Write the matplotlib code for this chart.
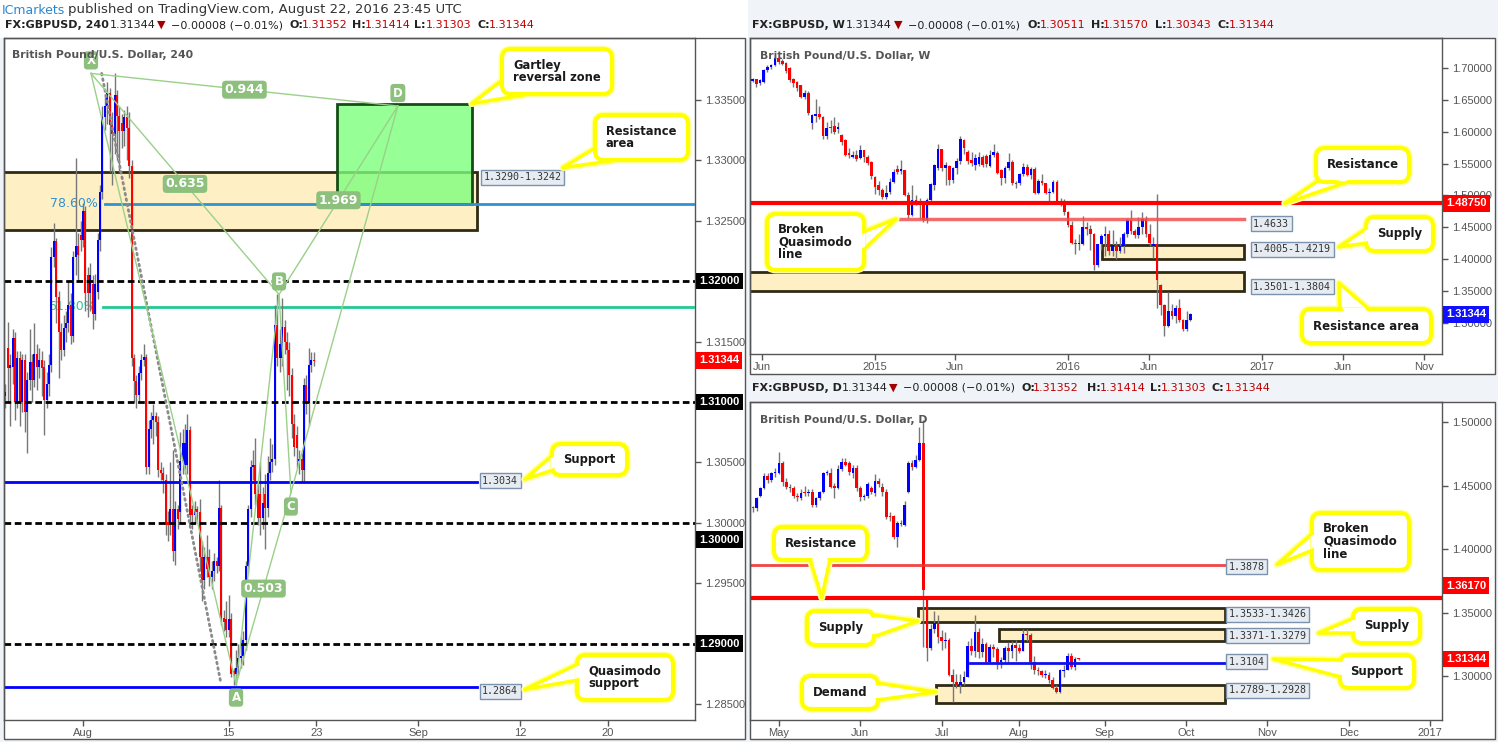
import matplotlib
matplotlib.use('Agg')
import matplotlib.pyplot as plt
import matplotlib.transforms as mtransforms
from matplotlib.patches import Rectangle, FancyBboxPatch, Polygon
import numpy as np

plt.rcParams['font.family'] = ['DejaVu Sans']

# ------------------------------------------------------------------ data: 4H (bar 0 = Aug 1 2016 00:00)
h4_first_bar = -32
h4_open = [
    1.3105, 1.3145, 1.3128, 1.3129, 1.3153, 1.3100, 1.3136, 1.3100, 1.3135, 1.3092,
    1.3118, 1.3133, 1.3118, 1.3140, 1.3129, 1.3135, 1.3129, 1.3102, 1.3115, 1.3131,
    1.3220, 1.3233, 1.3187, 1.3158, 1.3143, 1.3161, 1.3165, 1.3180, 1.3155, 1.3220,
    1.3229, 1.3238, 1.3234, 1.3258, 1.3205, 1.3190, 1.3198, 1.3173, 1.3191, 1.3234,
    1.3274, 1.3336, 1.3345, 1.3356, 1.3329, 1.3322, 1.3354, 1.3337, 1.3331, 1.3324,
    1.3336, 1.3327, 1.3295, 1.3136, 1.3117, 1.3106, 1.3124, 1.3135, 1.3137, 1.3046,
    1.3078, 1.3085, 1.3088, 1.3083, 1.3044, 1.3041, 1.3035, 1.3001, 1.2998, 1.3011,
    1.2977, 1.3011, 1.3009, 1.3051, 1.3048, 1.3048, 1.3077, 1.3011, 1.3006, 1.3011,
    1.3009, 1.2972, 1.2953, 1.2972, 1.2972, 1.2955, 1.2960, 1.2968, 1.2964, 1.3012,
    1.2921, 1.2920, 1.2911, 1.2920, 1.2877, 1.2875, 1.2880, 1.2888, 1.2890, 1.2903,
    1.2964, 1.3011, 1.3046, 1.3048, 1.3024, 1.3024, 1.3004, 1.3024, 1.3012, 1.3041,
    1.3050, 1.3053, 1.3164, 1.3136, 1.3136, 1.3162, 1.3150, 1.3143, 1.3122, 1.3082,
    1.3073, 1.3051, 1.3053, 1.3044, 1.3114, 1.3099, 1.3131, 1.3135]
h4_close = [
    1.3108, 1.3128, 1.3131, 1.3153, 1.3100, 1.3136, 1.3100, 1.3135, 1.3092, 1.3118,
    1.3133, 1.3118, 1.3140, 1.3129, 1.3135, 1.3128, 1.3102, 1.3115, 1.3131, 1.3220,
    1.3233, 1.3187, 1.3158, 1.3143, 1.3161, 1.3165, 1.3180, 1.3155, 1.3220, 1.3229,
    1.3222, 1.3234, 1.3258, 1.3190, 1.3190, 1.3205, 1.3173, 1.3198, 1.3234, 1.3274,
    1.3336, 1.3345, 1.3356, 1.3329, 1.3322, 1.3354, 1.3337, 1.3324, 1.3324, 1.3336,
    1.3327, 1.3295, 1.3136, 1.3117, 1.3106, 1.3124, 1.3135, 1.3137, 1.3046, 1.3078,
    1.3085, 1.3088, 1.3083, 1.3044, 1.3041, 1.3035, 1.2998, 1.2998, 1.3011, 1.2977,
    1.3011, 1.3003, 1.3051, 1.3066, 1.3066, 1.3077, 1.3006, 1.3006, 1.3011, 1.3009,
    1.2972, 1.2953, 1.2972, 1.2962, 1.2955, 1.2960, 1.2968, 1.2964, 1.3012, 1.2921,
    1.2918, 1.2911, 1.2920, 1.2875, 1.2875, 1.2880, 1.2888, 1.2890, 1.2903, 1.2964,
    1.3011, 1.3046, 1.3048, 1.3024, 1.3004, 1.3004, 1.3016, 1.3012, 1.3041, 1.3050,
    1.3053, 1.3164, 1.3136, 1.3148, 1.3162, 1.3150, 1.3143, 1.3122, 1.3082, 1.3063,
    1.3062, 1.3053, 1.3044, 1.3114, 1.3099, 1.3131, 1.3135, 1.3134]
h4_high = [
    1.3115, 1.3166, 1.3140, 1.3160, 1.3158, 1.3142, 1.3142, 1.3140, 1.3140, 1.3125,
    1.3160, 1.3140, 1.3165, 1.3148, 1.3145, 1.3142, 1.3135, 1.3125, 1.3140, 1.3228,
    1.3248, 1.3236, 1.3192, 1.3165, 1.3172, 1.3175, 1.3200, 1.3190, 1.3225, 1.3302,
    1.3240, 1.3250, 1.3265, 1.3262, 1.3212, 1.3215, 1.3205, 1.3206, 1.3240, 1.3280,
    1.3345, 1.3355, 1.3365, 1.3360, 1.3340, 1.3372, 1.3358, 1.3345, 1.3338, 1.3342,
    1.3345, 1.3340, 1.3300, 1.3140, 1.3122, 1.3130, 1.3140, 1.3148, 1.3140, 1.3085,
    1.3092, 1.3098, 1.3092, 1.3088, 1.3050, 1.3046, 1.3040, 1.3010, 1.3050, 1.3060,
    1.3018, 1.3015, 1.3075, 1.3078, 1.3082, 1.3090, 1.3080, 1.3015, 1.3018, 1.3014,
    1.3020, 1.2985, 1.2980, 1.2990, 1.2978, 1.2968, 1.2975, 1.2972, 1.3035, 1.3015,
    1.2928, 1.2935, 1.2940, 1.2925, 1.2880, 1.2895, 1.2900, 1.2905, 1.2910, 1.2968,
    1.3015, 1.3052, 1.3060, 1.3070, 1.3035, 1.3050, 1.3030, 1.3040, 1.3055, 1.3070,
    1.3065, 1.3180, 1.3189, 1.3160, 1.3186, 1.3168, 1.3158, 1.3150, 1.3128, 1.3090,
    1.3080, 1.3060, 1.3058, 1.3120, 1.3122, 1.3145, 1.3141, 1.3141]
h4_low = [
    1.3095, 1.3100, 1.3080, 1.3115, 1.3085, 1.3095, 1.3080, 1.3092, 1.3075, 1.3058,
    1.3110, 1.3100, 1.3112, 1.3110, 1.3120, 1.3105, 1.3073, 1.3095, 1.3105, 1.3125,
    1.3212, 1.3165, 1.3120, 1.3135, 1.3138, 1.3150, 1.3158, 1.3148, 1.3150, 1.3205,
    1.3200, 1.3225, 1.3228, 1.3175, 1.3170, 1.3175, 1.3160, 1.3168, 1.3185, 1.3225,
    1.3268, 1.3325, 1.3330, 1.3290, 1.3280, 1.3305, 1.3300, 1.3290, 1.3310, 1.3312,
    1.3300, 1.3285, 1.3130, 1.3100, 1.3095, 1.3100, 1.3118, 1.3130, 1.3040, 1.3040,
    1.3070, 1.3065, 1.3072, 1.3038, 1.3035, 1.3025, 1.2990, 1.2985, 1.2990, 1.2968,
    1.2965, 1.2995, 1.3000, 1.3040, 1.3040, 1.3040, 1.3000, 1.2995, 1.3000, 1.3000,
    1.2960, 1.2935, 1.2945, 1.2955, 1.2948, 1.2945, 1.2952, 1.2958, 1.2960, 1.2915,
    1.2910, 1.2905, 1.2905, 1.2872, 1.2866, 1.2866, 1.2874, 1.2880, 1.2882, 1.2895,
    1.2958, 1.3005, 1.3035, 1.3015, 1.2998, 1.2990, 1.2995, 1.2978, 1.3005, 1.3035,
    1.3042, 1.3048, 1.3130, 1.3125, 1.3130, 1.3140, 1.3110, 1.3105, 1.3070, 1.3055,
    1.3045, 1.3040, 1.3034, 1.3034, 1.3090, 1.3080, 1.3125, 1.3130]
h4_ticks = [0, 60, 96, 138, 180, 216]
h4_tick_labels = ['Aug', '15', '23', 'Sep', '12', '20']
h4_price_ticks = [1.285, 1.290, 1.295, 1.300, 1.305, 1.310, 1.315, 1.320, 1.325, 1.330, 1.335]
h4_round_levels = [1.3200, 1.3100, 1.3000, 1.2900]
h4_res_area = (1.3242, 1.3290)
h4_gartley = (1.3264, 1.3347)
h4_fib786 = 1.3264
h4_fib618 = 1.3179
h4_support = 1.3034
h4_qm_support = 1.2864
xabcd_names = ['X', 'A', 'B', 'C', 'D']
xabcd_bars = [3.3, 63.0, 80.7, 85.6, 129.6]
xabcd_prices = [1.3372, 1.2866, 1.3189, 1.3025, 1.3345]
ratio_texts = ['0.635', '0.503', '1.969', '0.944']   # XB, AC, BD, XD
dotted_bars = [7.7, 56.7]
dotted_prices = [1.3372, 1.2868]
last_price = 1.31344

# ------------------------------------------------------------------ data: weekly (week 0 = Jan 5 2015)
wk_first = -33
wk_open = [
    1.6801, 1.6822, 1.6759, 1.6785, 1.6969, 1.7021, 1.7047, 1.7152, 1.7116, 1.7084,
    1.6995, 1.6822, 1.6785, 1.6733, 1.6549, 1.6602, 1.6141, 1.6245, 1.6277, 1.6224,
    1.5931, 1.6067, 1.6088, 1.6046, 1.5947, 1.5869, 1.5659, 1.5607, 1.5633, 1.5580,
    1.5711, 1.5607, 1.5528, 1.5292, 1.5161, 1.5093, 1.4977, 1.5056, 1.5213, 1.5407,
    1.5380, 1.5396, 1.5004, 1.4689, 1.4935, 1.4872, 1.4899, 1.4610, 1.4925, 1.5161,
    1.5423, 1.5722, 1.5423, 1.5459, 1.5239, 1.5423, 1.5544, 1.5869, 1.5685, 1.5554,
    1.5475, 1.5486, 1.5607, 1.5617, 1.5459, 1.5633, 1.5659, 1.5400, 1.5270, 1.5430,
    1.5530, 1.5195, 1.5190, 1.5330, 1.5440, 1.5320, 1.5420, 1.5040, 1.5230, 1.5190,
    1.5040, 1.5060, 1.5210, 1.4910, 1.4900, 1.4740, 1.4530, 1.4260, 1.4230, 1.4240,
    1.4500, 1.4480, 1.4400, 1.3915, 1.4230, 1.4370, 1.4400, 1.4120, 1.4220, 1.4120,
    1.4200, 1.4400, 1.4620, 1.4440, 1.4380, 1.4500, 1.4630, 1.4400, 1.4200, 1.4245,
    1.3600, 1.3280, 1.2950, 1.3193, 1.3110, 1.3228, 1.3037, 1.2907, 1.30511]
wk_close = [
    1.6822, 1.6748, 1.6811, 1.6969, 1.7021, 1.7047, 1.7152, 1.7100, 1.7063, 1.6958,
    1.6811, 1.6759, 1.6680, 1.6549, 1.6602, 1.6298, 1.6261, 1.6277, 1.6224, 1.5931,
    1.6052, 1.6052, 1.5999, 1.6067, 1.5842, 1.5633, 1.5633, 1.5633, 1.5564, 1.5711,
    1.5596, 1.5512, 1.5302, 1.5135, 1.5093, 1.4977, 1.5040, 1.5213, 1.5370, 1.5370,
    1.5417, 1.5004, 1.4689, 1.4935, 1.4872, 1.4899, 1.4610, 1.4935, 1.5177, 1.5475,
    1.5722, 1.5423, 1.5480, 1.5239, 1.5423, 1.5544, 1.5879, 1.5738, 1.5544, 1.5502,
    1.5580, 1.5596, 1.5475, 1.5491, 1.5633, 1.5685, 1.5355, 1.5270, 1.5430, 1.5530,
    1.5190, 1.5185, 1.5330, 1.5440, 1.5320, 1.5420, 1.5040, 1.5230, 1.5190, 1.5040,
    1.5060, 1.5210, 1.4910, 1.4900, 1.4740, 1.4530, 1.4260, 1.4230, 1.4240, 1.4500,
    1.4480, 1.4400, 1.3915, 1.4230, 1.4370, 1.4400, 1.4120, 1.4220, 1.4120, 1.4200,
    1.4400, 1.4620, 1.4440, 1.4380, 1.4500, 1.4630, 1.4400, 1.4260, 1.4245, 1.3676,
    1.3280, 1.2950, 1.3193, 1.3110, 1.3228, 1.3037, 1.2907, 1.3050, 1.31344]
wk_high = [
    1.6840, 1.6830, 1.6830, 1.6990, 1.7040, 1.7060, 1.7180, 1.7190, 1.7140, 1.7100,
    1.7010, 1.6840, 1.6800, 1.6740, 1.6650, 1.6640, 1.6280, 1.6520, 1.6400, 1.6240,
    1.6150, 1.6180, 1.6230, 1.6150, 1.5960, 1.5880, 1.5750, 1.5700, 1.5710, 1.5790,
    1.5720, 1.5640, 1.5540, 1.5300, 1.5220, 1.5110, 1.5160, 1.5270, 1.5410, 1.5480,
    1.5550, 1.5400, 1.5060, 1.5170, 1.5000, 1.4960, 1.4920, 1.4960, 1.5190, 1.5500,
    1.5815, 1.5730, 1.5520, 1.5480, 1.5450, 1.5580, 1.5930, 1.5890, 1.5710, 1.5680,
    1.5650, 1.5680, 1.5640, 1.5650, 1.5720, 1.5815, 1.5690, 1.5420, 1.5460, 1.5660,
    1.5560, 1.5230, 1.5350, 1.5510, 1.5500, 1.5450, 1.5450, 1.5260, 1.5330, 1.5200,
    1.5110, 1.5240, 1.5240, 1.4960, 1.4940, 1.4750, 1.4600, 1.4310, 1.4400, 1.4670,
    1.4590, 1.4530, 1.4410, 1.4240, 1.4400, 1.4514, 1.4460, 1.4460, 1.4280, 1.4350,
    1.4420, 1.4640, 1.4770, 1.4480, 1.4660, 1.4740, 1.4680, 1.4550, 1.4350, 1.5018,
    1.3610, 1.3290, 1.3481, 1.3300, 1.3280, 1.3372, 1.3060, 1.3185, 1.31570]
wk_low = [
    1.6780, 1.6700, 1.6730, 1.6760, 1.6930, 1.6990, 1.7030, 1.7070, 1.7040, 1.6920,
    1.6780, 1.6700, 1.6640, 1.6530, 1.6520, 1.6260, 1.6050, 1.6160, 1.6200, 1.5880,
    1.5880, 1.5980, 1.5960, 1.5980, 1.5790, 1.5620, 1.5590, 1.5590, 1.5540, 1.5570,
    1.5530, 1.5470, 1.5250, 1.5030, 1.5000, 1.4950, 1.4950, 1.5020, 1.5190, 1.5330,
    1.5340, 1.4990, 1.4640, 1.4670, 1.4850, 1.4630, 1.4580, 1.4570, 1.4890, 1.5080,
    1.5400, 1.5380, 1.5170, 1.5170, 1.5200, 1.5330, 1.5500, 1.5650, 1.5500, 1.5460,
    1.5400, 1.5460, 1.5440, 1.5450, 1.5440, 1.5600, 1.5330, 1.5160, 1.5200, 1.5400,
    1.5170, 1.5110, 1.5160, 1.5300, 1.5300, 1.5250, 1.5030, 1.5020, 1.5170, 1.5020,
    1.4895, 1.5040, 1.4890, 1.4830, 1.4700, 1.4500, 1.4240, 1.4080, 1.4150, 1.4220,
    1.4380, 1.4150, 1.3836, 1.3880, 1.4150, 1.4052, 1.4060, 1.4050, 1.4005, 1.4090,
    1.4100, 1.4350, 1.4400, 1.4330, 1.4330, 1.4400, 1.4350, 1.4200, 1.4010, 1.3229,
    1.3120, 1.2796, 1.2932, 1.3060, 1.3000, 1.3010, 1.2865, 1.2865, 1.30343]
wk_ticks = [-30.5, 0, 21.6, 52, 73.7, 104.3, 126, 148]
wk_tick_labels = ['Jun', '2015', 'Jun', '2016', 'Jun', '2017', 'Jun', 'Nov']
wk_price_ticks = [1.30, 1.35, 1.40, 1.45, 1.50, 1.55, 1.60, 1.65, 1.70]
wk_resistance = 1.4875
wk_bqm = 1.4633
wk_supply = (1.4005, 1.4219)
wk_res_area = (1.3501, 1.3804)

# ------------------------------------------------------------------ data: daily (day 0 = Aug 1 2016)
dy_first = -72
dy_open = [
    1.4330, 1.4321, 1.4420, 1.4478, 1.4575, 1.4540, 1.4596, 1.4596, 1.4675, 1.4530,
    1.4491, 1.4478, 1.4417, 1.4399, 1.4452, 1.4439, 1.4452, 1.4347, 1.4399, 1.4452,
    1.4596, 1.4596, 1.4500, 1.4478, 1.4628, 1.4688, 1.4675, 1.4596, 1.4635, 1.4478,
    1.4407, 1.4417, 1.4478, 1.4439, 1.4538, 1.4491, 1.4452, 1.4260, 1.4260, 1.4097,
    1.4208, 1.4189, 1.4452, 1.4675, 1.4649, 1.4701, 1.4832, 1.3600, 1.3224, 1.3367,
    1.3420, 1.3305, 1.3280, 1.3286, 1.3010, 1.2950, 1.2932, 1.2952, 1.2990, 1.3240,
    1.3200, 1.3345, 1.3193, 1.3250, 1.3110, 1.3230, 1.3215, 1.3110, 1.3125, 1.3220,
    1.3200, 1.3245, 1.3225, 1.3200, 1.3335, 1.3320, 1.3115, 1.3050, 1.3040, 1.3005,
    1.3010, 1.2970, 1.2910, 1.2875, 1.3040, 1.3048, 1.3160, 1.3075, 1.31352]
dy_close = [
    1.4321, 1.4399, 1.4478, 1.4575, 1.4540, 1.4596, 1.4609, 1.4675, 1.4530, 1.4491,
    1.4478, 1.4417, 1.4407, 1.4439, 1.4439, 1.4452, 1.4347, 1.4399, 1.4452, 1.4596,
    1.4609, 1.4491, 1.4478, 1.4628, 1.4688, 1.4662, 1.4609, 1.4635, 1.4478, 1.4407,
    1.4417, 1.4512, 1.4452, 1.4538, 1.4512, 1.4452, 1.4255, 1.4255, 1.4097, 1.4208,
    1.4195, 1.4347, 1.4675, 1.4649, 1.4701, 1.4832, 1.3676, 1.3224, 1.3367, 1.3420,
    1.3305, 1.3280, 1.3286, 1.3010, 1.2950, 1.2932, 1.2952, 1.2990, 1.3240, 1.3200,
    1.3345, 1.3193, 1.3250, 1.3110, 1.3230, 1.3215, 1.3110, 1.3125, 1.3220, 1.3200,
    1.3245, 1.3225, 1.3200, 1.3330, 1.3320, 1.3115, 1.3050, 1.3040, 1.3005, 1.3010,
    1.2970, 1.2910, 1.2875, 1.3045, 1.3048, 1.3160, 1.3075, 1.3135, 1.31344]
dy_high = [
    1.4340, 1.4410, 1.4490, 1.4600, 1.4600, 1.4610, 1.4640, 1.4767, 1.4690, 1.4560,
    1.4510, 1.4500, 1.4440, 1.4470, 1.4500, 1.4470, 1.4470, 1.4410, 1.4460, 1.4610,
    1.4620, 1.4640, 1.4520, 1.4660, 1.4720, 1.4720, 1.4690, 1.4660, 1.4660, 1.4500,
    1.4430, 1.4530, 1.4500, 1.4590, 1.4560, 1.4520, 1.4470, 1.4290, 1.4270, 1.4220,
    1.4230, 1.4380, 1.4690, 1.4700, 1.4740, 1.4963, 1.5018, 1.3610, 1.3408, 1.3509,
    1.3484, 1.3363, 1.3347, 1.3300, 1.3060, 1.3020, 1.3018, 1.3040, 1.3280, 1.3300,
    1.3481, 1.3375, 1.3300, 1.3270, 1.3250, 1.3255, 1.3230, 1.3150, 1.3240, 1.3265,
    1.3280, 1.3285, 1.3255, 1.3370, 1.3372, 1.3340, 1.3160, 1.3070, 1.3050, 1.3050,
    1.3030, 1.2990, 1.2930, 1.3060, 1.3090, 1.3185, 1.3185, 1.3150, 1.31414]
dy_low = [
    1.4290, 1.4300, 1.4410, 1.4470, 1.4520, 1.4530, 1.4570, 1.4590, 1.4500, 1.4470,
    1.4450, 1.4400, 1.4380, 1.4390, 1.4420, 1.4420, 1.4330, 1.4330, 1.4390, 1.4440,
    1.4580, 1.4480, 1.4400, 1.4470, 1.4615, 1.4650, 1.4580, 1.4560, 1.4460, 1.4380,
    1.4390, 1.4400, 1.4430, 1.4420, 1.4490, 1.4420, 1.4240, 1.4220, 1.4080, 1.4019,
    1.4180, 1.4180, 1.4440, 1.4620, 1.4640, 1.4690, 1.3229, 1.3122, 1.3207, 1.3340,
    1.3258, 1.3208, 1.3220, 1.3001, 1.2798, 1.2905, 1.2865, 1.2933, 1.2990, 1.3170,
    1.3150, 1.3140, 1.3150, 1.3100, 1.3100, 1.3150, 1.3060, 1.3065, 1.3105, 1.3100,
    1.3140, 1.3120, 1.3180, 1.3195, 1.3280, 1.3056, 1.3020, 1.3012, 1.2990, 1.2985,
    1.2945, 1.2900, 1.2865, 1.2865, 1.2995, 1.3045, 1.3060, 1.3050, 1.31303]
dy_ticks = [-65, -43, -21, 0, 23, 45, 67, 89, 111]
dy_tick_labels = ['May', 'Jun', 'Jul', 'Aug', 'Sep', 'Oct', 'Nov', 'Dec', '2017']
dy_price_ticks = [1.30, 1.35, 1.40, 1.45, 1.50]
dy_resistance = 1.3617
dy_bqm = 1.3878
dy_supply1 = (1.3426, 1.3533)
dy_supply2 = (1.3279, 1.3371)
dy_demand = (1.2789, 1.2928)
dy_support = 1.3104

# ------------------------------------------------------------------ figure
W, H = 1498, 742
fig = plt.figure(figsize=(W / 100, H / 100), dpi=100)
fig.patch.set_facecolor('#F0F3F7')

def rect_px(x0, y0, x1, y1):
    return [x0 / W, 1 - y1 / H, (x1 - x0) / W, (y1 - y0) / H]

bg = fig.add_axes([0, 0, 1, 1], zorder=0)
bg.set_xlim(0, W); bg.set_ylim(H, 0); bg.axis('off')
bg.add_patch(Rectangle((0, 0), 748, 38, fc='white', ec='none'))
for (x0, y0, x1, y1) in [(4, 38, 745, 739), (750, 38, 1495, 374), (750, 402, 1495, 739)]:
    bg.add_patch(Rectangle((x0, y0), x1 - x0, y1 - y0, fc='white', ec='none'))

ax4 = fig.add_axes(rect_px(4, 38, 695, 720), zorder=1)
axw = fig.add_axes(rect_px(750, 38, 1442, 354), zorder=1)
axd = fig.add_axes(rect_px(750, 402, 1442, 720), zorder=1)

ov = fig.add_axes([0, 0, 1, 1], zorder=5)
ov.set_xlim(0, W); ov.set_ylim(H, 0); ov.axis('off'); ov.patch.set_alpha(0)

TAN = '#FFEFC4'
TAN_EDGE = '#2F2A14'
GRAY = '#555555'

def style_axes(ax, xlim, ylim, xticks, xlabels, yticks, hidden=()):
    ax.set_xlim(*xlim); ax.set_ylim(*ylim)
    ax.set_facecolor('white')
    for s in ax.spines.values():
        s.set_color(GRAY); s.set_linewidth(1)
    ax.yaxis.tick_right()
    ax.set_yticks(yticks)
    ax.set_yticklabels(['' if any(abs(v - hv) < 1e-9 for hv in hidden) else f'{v:.5f}' for v in yticks])
    ax.set_xticks(xticks)
    ax.set_xticklabels(xlabels)
    ax.tick_params(axis='both', colors=GRAY, labelcolor=GRAY, labelsize=8, length=4, width=1)
    ax.tick_params(axis='y', pad=3)
    ax.tick_params(axis='x', pad=2)
    for lab in ax.get_xticklabels() + ax.get_yticklabels():
        lab.set_family('Liberation Sans')

def draw_candles(ax, first, o, h, l, c, width, min_h):
    o, h, l, c = (np.asarray(v, dtype=float) for v in (o, h, l, c))
    x = np.arange(len(o)) + first
    ax.vlines(x, l, h, colors='#777777', linewidth=1.0, zorder=3)
    bottom = np.minimum(o, c)
    height = np.maximum(np.abs(c - o), min_h)
    colors = np.where(c >= o, '#0000FF', '#FF0000')
    ax.bar(x, height, width=width, bottom=bottom, color=colors, linewidth=0, zorder=4)

def zone(ax, x0, x1, lo, hi, z=2):
    ax.add_patch(Rectangle((x0, lo), x1 - x0, hi - lo, fc=TAN, ec=TAN_EDGE, lw=2, zorder=z))

def axis_box(ax, price, text, fc, dy=0):
    tr = ax.get_yaxis_transform() + mtransforms.ScaledTranslation(4 / 100, -dy / 100, fig.dpi_scale_trans)
    ax.text(1.0, price, text, transform=tr, ha='left', va='center', color='white', fontsize=8,
            fontweight='bold', family='Liberation Sans',
            bbox=dict(boxstyle='square,pad=0.3', fc=fc, ec='none'), clip_on=False, zorder=10)

def value_label(ax, x, price, text, dy=0):
    tr = ax.transData + mtransforms.ScaledTranslation(0, -dy / 100, fig.dpi_scale_trans)
    ax.text(x, price, text, transform=tr, ha='left', va='center', fontsize=7.2, family='DejaVu Sans Mono',
            color='#333333', bbox=dict(boxstyle='square,pad=0.25', fc='#E6ECF2', ec='#7C93AD', lw=1),
            zorder=9, clip_on=False)

def to_ov(ax, x, y):
    return tuple(ov.transData.inverted().transform(ax.transData.transform((x, y))))

def callout(text, box, base, tip, fs=8, align='center'):
    x0, y0, x1, y1 = box
    tri = [base[0], tip, base[1]]
    ov.add_patch(Polygon(tri, closed=True, fc='white', ec='#FFFFA8', lw=5, zorder=18, joinstyle='round'))
    ov.add_patch(FancyBboxPatch((x0, y0), x1 - x0, y1 - y0, boxstyle='round,pad=0,rounding_size=9',
                                fc='white', ec='#FFFFA8', lw=5, zorder=18))
    ov.add_patch(Polygon(tri, closed=True, fc='white', ec='#FFFF00', lw=2.5, zorder=19, joinstyle='round'))
    ov.add_patch(FancyBboxPatch((x0, y0), x1 - x0, y1 - y0, boxstyle='round,pad=0,rounding_size=9',
                                fc='white', ec='#FFFF00', lw=3, zorder=20))
    b0 = np.array(base[0], float); b1 = np.array(base[1], float); t = np.array(tip, float)
    mid = (b0 + b1) / 2
    d = (t - mid) / np.linalg.norm(t - mid)
    c0 = b0 + (mid - b0) * 0.25; c1 = b1 + (mid - b1) * 0.25
    seam = [c0 - 4 * d, c1 - 4 * d, c1 + 3 * d, c0 + 3 * d]
    ov.add_patch(Polygon(seam, closed=True, fc='white', ec='none', zorder=21))
    if align == 'left':
        ov.text(x0 + 11, (y0 + y1) / 2, text, ha='left', va='center', fontsize=fs, fontweight='bold',
                color='#1a1a1a', linespacing=0.95, zorder=22)
    else:
        ov.text((x0 + x1) / 2, (y0 + y1) / 2, text, ha='center', va='center', fontsize=fs,
                fontweight='bold', color='#1a1a1a', linespacing=0.95, zorder=22)

# ------------------------------------------------------------------ 4H panel
style_axes(ax4, (-32.5, 251.9), (1.28367, 1.34013), h4_ticks, h4_tick_labels, h4_price_ticks,
           hidden=(1.32, 1.31, 1.29))
zone(ax4, -40, 162.1, *h4_res_area)
ax4.add_patch(Rectangle((104.5, h4_gartley[0]), 160 - 104.5, h4_gartley[1] - h4_gartley[0],
                        fc='#7CFF7C', ec='none', alpha=0.8, zorder=2.5))
ax4.add_patch(Rectangle((104.5, h4_gartley[0]), 160 - 104.5, h4_gartley[1] - h4_gartley[0],
                        fc='none', ec='#164D16', lw=2, zorder=2.6))
ax4.plot([9, 260], [h4_fib786, h4_fib786], color='#2E93D1', lw=2, zorder=2.7)
ax4.plot([8.2, 260], [h4_fib618, h4_fib618], color='#22C993', lw=2, zorder=2.7)
ax4.text(6.2, h4_fib786, '78.60%', color='#2E93D1', fontsize=9, ha='right', va='center', zorder=2.8)
ax4.text(5.2, h4_fib618, '61.80%', color='#22C993', fontsize=9, ha='right', va='center', zorder=2.8)
draw_candles(ax4, h4_first_bar, h4_open, h4_high, h4_low, h4_close, 0.82, 0.00009)
for lvl in h4_round_levels:
    ax4.axhline(lvl, color='black', lw=2, dashes=(2.4, 1.3), zorder=5)
ax4.plot([-40, 162.1], [h4_support, h4_support], color='#0000FF', lw=2, zorder=5)
ax4.plot([-40, 162.1], [h4_qm_support, h4_qm_support], color='#0000FF', lw=2, zorder=5)
ax4.plot(dotted_bars, dotted_prices, color='#8a8a8a', lw=2, linestyle=(0, (0.6, 1.4)),
         dash_capstyle='round', zorder=6)
pts = dict(zip(xabcd_names, zip(xabcd_bars, xabcd_prices)))
seg_pairs = [('X', 'A'), ('A', 'B'), ('B', 'C'), ('C', 'D'), ('X', 'B'), ('A', 'C'), ('B', 'D'), ('X', 'D')]
for p, q in seg_pairs:
    ax4.plot([pts[p][0], pts[q][0]], [pts[p][1], pts[q][1]], color='#9AD08A', lw=1, zorder=6)
PAT = '#8CC07C'
for (p, q), txt in zip([('X', 'B'), ('A', 'C'), ('B', 'D'), ('X', 'D')], ratio_texts):
    mx = (pts[p][0] + pts[q][0]) / 2; my = (pts[p][1] + pts[q][1]) / 2
    ax4.text(mx, my, txt, ha='center', va='center', fontsize=9, fontweight='bold', color='white',
             bbox=dict(boxstyle='round,pad=0.2,rounding_size=0.3', fc=PAT, ec='none'), zorder=7)
offs = {'X': 13, 'A': -13, 'B': 13, 'C': -14, 'D': 13}
for n in xabcd_names:
    ax4.annotate(n, pts[n], xytext=(0, offs[n]), textcoords='offset pixels', ha='center', va='center',
                 fontsize=8.5, fontweight='bold', color='white',
                 bbox=dict(boxstyle='round,pad=0.22,rounding_size=0.3', fc=PAT, ec='none'), zorder=7)
value_label(ax4, 165, h4_res_area[1], '1.3290-1.3242', dy=5)
value_label(ax4, 164.3, h4_support, '1.3034', dy=-1)
value_label(ax4, 164.3, h4_qm_support, '1.2864', dy=4)
for lvl in h4_round_levels:
    axis_box(ax4, lvl, f'{lvl:.5f}', 'black', dy=17 if abs(lvl - 1.30) < 1e-9 else 0)
axis_box(ax4, last_price, f'{last_price:.5f}', '#FF0000')

# ------------------------------------------------------------------ weekly panel
style_axes(axw, (-33.7, 152.8), (1.2511, 1.7471), wk_ticks, wk_tick_labels, wk_price_ticks)
zone(axw, -40, 99.5, *wk_res_area)
zone(axw, 61.2, 99.5, *wk_supply)
draw_candles(axw, wk_first, wk_open, wk_high, wk_low, wk_close, 0.72, 0.0016)
axw.axhline(wk_resistance, color='#FF0000', lw=3, zorder=5)
axw.plot([5.9, 99.5], [wk_bqm, wk_bqm], color='#F25050', lw=2.5, alpha=0.85, zorder=5)
value_label(axw, 101.9, wk_bqm, '1.4633', dy=5)
value_label(axw, 101.9, wk_supply[1], '1.4005-1.4219', dy=4)
value_label(axw, 101.9, wk_res_area[1], '1.3501-1.3804', dy=15)
axis_box(axw, wk_resistance, f'{wk_resistance:.5f}', '#FF0000')
axis_box(axw, last_price, f'{last_price:.5f}', '#1010FF')

# ------------------------------------------------------------------ daily panel
style_axes(axd, (-72.8, 114.2), (1.26547, 1.51574), dy_ticks, dy_tick_labels, dy_price_ticks)
zone(axd, -27.4, 55.6, *dy_supply1)
zone(axd, -5.5, 55.6, *dy_supply2)
zone(axd, -22.5, 55.6, *dy_demand)
draw_candles(axd, dy_first, dy_open, dy_high, dy_low, dy_close, 0.72, 0.0008)
axd.axhline(dy_resistance, color='#FF0000', lw=3, zorder=5)
axd.plot([-80, 55.6], [dy_bqm, dy_bqm], color='#F03030', lw=2, alpha=0.9, zorder=5)
axd.plot([-13.4, 55.6], [dy_support, dy_support], color='#1010EE', lw=2, zorder=5)
value_label(axd, 56.6, dy_bqm, '1.3878', dy=2)
value_label(axd, 56.6, dy_supply1[1], '1.3533-1.3426', dy=6)
value_label(axd, 56.6, dy_supply2[1], '1.3371-1.3279', dy=7)
value_label(axd, 56.6, dy_support, '1.3104', dy=-1)
value_label(axd, 56.6, dy_demand[1], '1.2789-1.2928', dy=5)
axis_box(axd, dy_resistance, f'{dy_resistance:.5f}', '#FF0000', dy=-12)
axis_box(axd, last_price, f'{last_price:.5f}', '#FF0000')

# ------------------------------------------------------------------ frames
for (x0, y0, x1, y1) in [(4, 38, 745, 739), (750, 38, 1495, 374), (750, 402, 1495, 739)]:
    ov.add_patch(Rectangle((x0, y0), x1 - x0, y1 - y0, fc='none', ec=GRAY, lw=1, zorder=30))

# ------------------------------------------------------------------ headers
RED = '#C00000'
DARK = '#222222'
ov.text(2, 10, 'ICmarkets', color='#2A86D0', fontsize=9, va='center', ha='left')
ov.text(68, 10, 'published on TradingView.com, August 22, 2016 23:45 UTC', color='#333333',
        fontsize=9.5, va='center', ha='left')

def header(y, xs, title, o, h, l, c):
    parts = [(title, DARK, 'bold'), ('1.31344', DARK, 'normal'), ('\u25BC', '#A00000', 'normal'),
             ('\u22120.00008 (\u22120.01%)', DARK, 'normal'), ('O:', DARK, 'bold'), (o, RED, 'normal'),
             ('H:', DARK, 'bold'), (h, RED, 'normal'), ('L:', DARK, 'bold'), (l, RED, 'normal'),
             ('C:', DARK, 'bold'), (c, RED, 'normal')]
    for x, (t, col, wt) in zip(xs, parts):
        ov.text(x, y, t, color=col, fontweight=wt, fontsize=8, va='center', ha='left')

header(25, [5, 110, 157, 171, 289, 302, 352, 365, 414, 426, 477, 489], 'FX:GBPUSD, 240',
       '1.31352', '1.31414', '1.31303', '1.31344')
header(25, [752, 846, 894, 908, 1027, 1040, 1091, 1103, 1155, 1166, 1217, 1229], 'FX:GBPUSD, W',
       '1.30511', '1.31570', '1.30343', '1.31344')
header(388, [752, 842, 889, 903, 1022, 1033, 1087, 1100, 1150, 1161, 1211, 1225], 'FX:GBPUSD, D',
       '1.31352', '1.31414', '1.31303', '1.31344')

for (x, y, t) in [(12, 55, 'British Pound/U.S. Dollar, 240'), (760, 56, 'British Pound/U.S. Dollar, W'),
                  (760, 420, 'British Pound/U.S. Dollar, D')]:
    ov.text(x, y, t, color='#555555', fontsize=7.8, fontweight='bold', va='center', ha='left', zorder=25)

# ------------------------------------------------------------------ callouts
callout('Gartley\nreversal zone', (502, 49, 612, 94), [(505, 78), (535, 93)],
        to_ov(ax4, 160, h4_gartley[1]), fs=8.3, align='left')
callout('Resistance\narea', (595, 115, 688, 160), [(600, 145), (625, 159)],
        to_ov(ax4, 197.5, 1.3294), fs=8.3, align='left')
callout('Support', (552, 444, 627, 475), [(553, 455), (553, 470)], to_ov(ax4, 181.8, 1.3036), fs=8.3)
callout('Quasimodo\nsupport', (577, 655, 673, 700), [(578, 664), (578, 680)],
        to_ov(ax4, 181.8, 1.2862), fs=8.3, align='left')

callout('Resistance', (1316, 148, 1409, 182), [(1325, 176), (1350, 181)],
        to_ov(axw, 110.4, wk_resistance), fs=8.5)
callout('Supply', (1366, 217, 1433, 251), [(1367, 228), (1367, 243)], to_ov(axw, 125.0, 1.4191), fs=8.5)
callout('Resistance area', (1302, 309, 1431, 343), [(1340, 310), (1370, 310)],
        to_ov(axw, 125.0, 1.3626), fs=8.5)
callout('Broken\nQuasimodo\nline', (767, 214, 864, 270), [(863, 232), (863, 250)],
        to_ov(axw, 5.7, wk_bqm), fs=8.5, align='left')

callout('Resistance', (774, 527, 867, 560), [(810, 559), (830, 559)], to_ov(axd, -53.4, dy_resistance), fs=8.5)
callout('Broken\nQuasimodo\nline', (1312, 513, 1409, 570), [(1313, 533), (1313, 550)],
        to_ov(axd, 69.6, dy_bqm), fs=8.5, align='left')
callout('Supply', (807, 611, 874, 645), [(873, 615), (873, 637)], to_ov(axd, -27.4, 1.3434), fs=8.5)
callout('Supply', (1353, 609, 1420, 643), [(1354, 618), (1354, 633)], to_ov(axd, 80.8, 1.3339), fs=8.5)
callout('Support', (1340, 655, 1414, 688), [(1341, 660), (1341, 677)], to_ov(axd, 68.6, 1.3135), fs=8.5)
callout('Demand', (802, 676, 878, 709), [(877, 683), (877, 700)], to_ov(axd, -22.5, 1.2875), fs=8.5)

fig.savefig('out.png', dpi=100, facecolor=fig.get_facecolor())
